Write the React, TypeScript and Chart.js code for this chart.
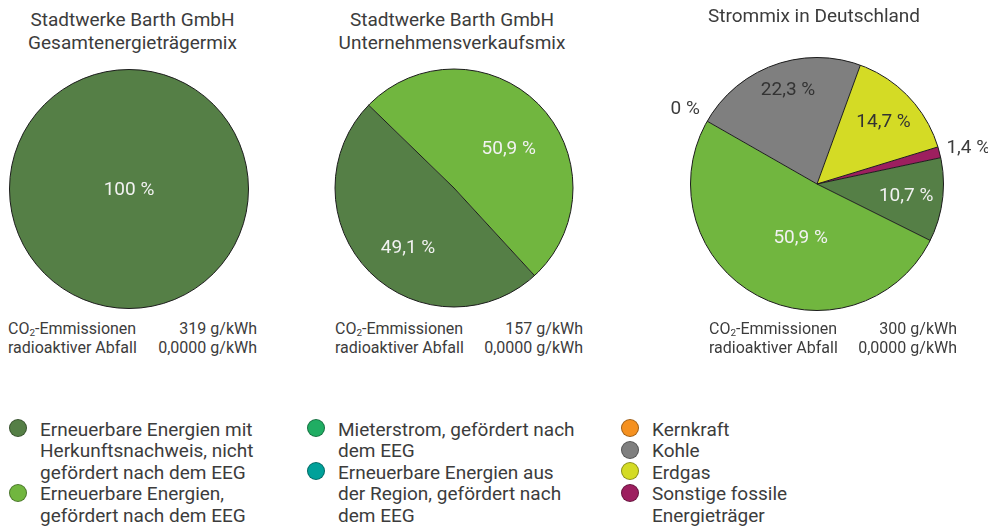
import React, { useEffect, useRef } from "react";
import { Chart, registerables } from "chart.js";

Chart.register(...registerables);

const FONT = "Roboto, 'Noto Sans', sans-serif";
const TEXT = "#3c3c3c";

// ---- data ----
const categories = [
  "Erneuerbare Energien mit Herkunftsnachweis, nicht gefördert nach dem EEG",
  "Erneuerbare Energien, gefördert nach dem EEG",
  "Mieterstrom, gefördert nach dem EEG",
  "Erneuerbare Energien aus der Region, gefördert nach dem EEG",
  "Kernkraft",
  "Kohle",
  "Erdgas",
  "Sonstige fossile Energieträger",
];
const sliceColors = ["#557f46", "#71b63f", "#20ad63", "#00a19a", "#f59120", "#7f7f7f", "#d4db25", "#9d1f5f"];

const gesamtValues = [100, 0, 0, 0, 0, 0, 0, 0];
const verkaufValues = [49.1, 50.9, 0, 0, 0, 0, 0, 0];
const deutschlandValues = [10.7, 50.9, 0, 0, 0, 22.3, 14.7, 1.4];

const chartTitles = [
  ["Stadtwerke Barth GmbH", "Gesamtenergieträgermix"],
  ["Stadtwerke Barth GmbH", "Unternehmensverkaufsmix"],
  ["Strommix in Deutschland"],
];
const co2Values = [319, 157, 300];
const wasteValues = [0, 0, 0];
const legendColumns = [[0, 1], [2, 3], [4, 5, 6, 7]];

// ---- layout (not data) ----
type Place = { idx: number; shift: number; f: number; color: string };
const pieLayouts = [
  { cx: 128.5, cy: 188.5, r: 119.5, half: 125, rotation: 0,
    labels: [{ idx: 0, shift: 0, f: 0, color: "#f2f2f2" }] as Place[] },
  { cx: 453.5, cy: 188, r: 119, half: 125, rotation: 137.4,
    labels: [
      { idx: 0, shift: -8, f: 0.63, color: "#f2f2f2" },
      { idx: 1, shift: 8, f: 0.57, color: "#f2f2f2" },
    ] as Place[] },
  { cx: 816.7, cy: 184, r: 126.5, half: 172, rotation: 78,
    labels: [
      { idx: 0, shift: 0, f: 0.71, color: "#f2f2f2" },
      { idx: 1, shift: -11, f: 0.44, color: "#f2f2f2" },
      { idx: 4, shift: 0, f: 1.2, color: TEXT },
      { idx: 5, shift: 3, f: 0.78, color: "#333333" },
      { idx: 6, shift: 0, f: 0.725, color: "#333333" },
      { idx: 7, shift: 1, f: 1.23, color: TEXT },
    ] as Place[] },
];
const titleLayouts = [
  { cx: 132.5, top: 8 },
  { cx: 452, top: 8 },
  { cx: 814, top: 3.7 },
];
const emissionLayouts = [
  { left: 8, width: 249 },
  { left: 335, width: 248 },
  { left: 709, width: 248 },
];
const legendLayouts = [
  { left: 40, width: 225 },
  { left: 338, width: 245 },
  { left: 652, width: 160 },
];

const fmt = (v: number) => v.toLocaleString("de-DE", { maximumFractionDigits: 1 });
const fmtWaste = (v: number) => v.toFixed(4).replace(".", ",");

const outlinePlugin = {
  id: "outline",
  afterDatasetsDraw(chart: any) {
    const ctx = chart.ctx as CanvasRenderingContext2D;
    const arcs = chart.getDatasetMeta(0).data as any[];
    ctx.save();
    ctx.strokeStyle = "#1c1c1c";
    ctx.lineWidth = 1;
    let circleDone = false;
    arcs.forEach((a) => {
      const p = a.getProps(["x", "y", "startAngle", "endAngle", "outerRadius", "circumference"], true);
      if (!circleDone) {
        ctx.beginPath();
        ctx.arc(p.x, p.y, p.outerRadius, 0, Math.PI * 2);
        ctx.stroke();
        circleDone = true;
      }
      if (p.circumference > 1e-6 && p.circumference < Math.PI * 2 - 1e-6) {
        ctx.beginPath();
        ctx.moveTo(p.x, p.y);
        ctx.lineTo(p.x + Math.cos(p.startAngle) * p.outerRadius, p.y + Math.sin(p.startAngle) * p.outerRadius);
        ctx.stroke();
      }
    });
    ctx.restore();
  },
};

function makeLabelPlugin(places: Place[]) {
  return {
    id: "sliceLabels",
    afterDatasetsDraw(chart: any) {
      const ctx = chart.ctx as CanvasRenderingContext2D;
      const arcs = chart.getDatasetMeta(0).data as any[];
      const data = chart.data.datasets[0].data as number[];
      ctx.save();
      ctx.font = `19px ${FONT}`;
      ctx.textAlign = "center";
      ctx.textBaseline = "middle";
      places.forEach((pl) => {
        const a = arcs[pl.idx];
        const p = a.getProps(["x", "y", "startAngle", "endAngle", "outerRadius"], true);
        const mid = (p.startAngle + p.endAngle) / 2 + (pl.shift * Math.PI) / 180;
        const rr = p.outerRadius * pl.f;
        ctx.fillStyle = pl.color;
        ctx.fillText(`${fmt(data[pl.idx])} %`, p.x + Math.cos(mid) * rr, p.y + Math.sin(mid) * rr + 1);
      });
      ctx.restore();
    },
  };
}

function PieChart({ values, layout }: { values: number[]; layout: (typeof pieLayouts)[number] }) {
  const ref = useRef<HTMLCanvasElement>(null);
  useEffect(() => {
    const chart = new Chart(ref.current!, {
      type: "pie",
      data: {
        labels: categories,
        datasets: [
          {
            data: values,
            backgroundColor: sliceColors,
            borderWidth: 0,
            rotation: layout.rotation,
            radius: layout.r,
          } as any,
        ],
      },
      options: {
        responsive: false,
        animation: false,
        devicePixelRatio: 1,
        rotation: layout.rotation,
        radius: layout.r,
        events: [],
        layout: { padding: 0 },
        plugins: { legend: { display: false }, tooltip: { enabled: false }, title: { display: false } },
      } as any,
      plugins: [outlinePlugin, makeLabelPlugin(layout.labels)],
    });
    return () => chart.destroy();
  }, []);
  return (
    <canvas
      ref={ref}
      width={layout.half * 2}
      height={layout.half * 2}
      style={{ position: "absolute", left: layout.cx - layout.half, top: layout.cy - layout.half }}
    />
  );
}

export default function App() {
  const pies = [gesamtValues, verkaufValues, deutschlandValues];
  return (
    <div
      style={{
        position: "absolute",
        left: 0,
        top: 0,
        width: 988,
        height: 529,
        overflow: "hidden",
        background: "#ffffff",
        fontFamily: FONT,
        color: TEXT,
      }}
    >
      {pies.map((v, i) => (
        <PieChart key={"p" + i} values={v} layout={pieLayouts[i]} />
      ))}
      {chartTitles.map((lines, i) => (
        <div
          key={"t" + i}
          style={{
            position: "absolute",
            left: titleLayouts[i].cx - 160,
            top: titleLayouts[i].top,
            width: 320,
            textAlign: "center",
            fontSize: 19,
            lineHeight: "23px",
          }}
        >
          {lines.map((l, j) => (
            <div key={j}>{l}</div>
          ))}
        </div>
      ))}
      {co2Values.map((c, i) => (
        <div
          key={"e" + i}
          style={{
            position: "absolute",
            left: emissionLayouts[i].left,
            top: 320,
            width: emissionLayouts[i].width,
            fontSize: 16,
            lineHeight: "17px",
          }}
        >
          <div style={{ display: "flex", justifyContent: "space-between", whiteSpace: "nowrap" }}>
            <span>
              CO<span style={{ fontSize: "0.62em", position: "relative", top: "0.25em" }}>2</span>-Emmissionen
            </span>
            <span>{c} g/kWh</span>
          </div>
          <div style={{ display: "flex", justifyContent: "space-between", whiteSpace: "nowrap" }}>
            <span>radioaktiver Abfall</span>
            <span>{fmtWaste(wasteValues[i])} g/kWh</span>
          </div>
        </div>
      ))}
      {legendColumns.map((col, ci) => (
        <div
          key={"l" + ci}
          style={{
            position: "absolute",
            left: legendLayouts[ci].left,
            top: 418.8,
            width: legendLayouts[ci].width,
            fontSize: 19,
            lineHeight: "21.5px",
          }}
        >
          {col.map((idx) => (
            <div key={idx} style={{ position: "relative" }}>
              <span
                style={{
                  position: "absolute",
                  left: -31,
                  top: 0.7,
                  width: 18,
                  height: 18,
                  boxSizing: "border-box",
                  borderRadius: "50%",
                  background: sliceColors[idx],
                  border: "1px solid rgba(0,0,0,0.35)",
                }}
              />
              {categories[idx]}
            </div>
          ))}
        </div>
      ))}
    </div>
  );
}
